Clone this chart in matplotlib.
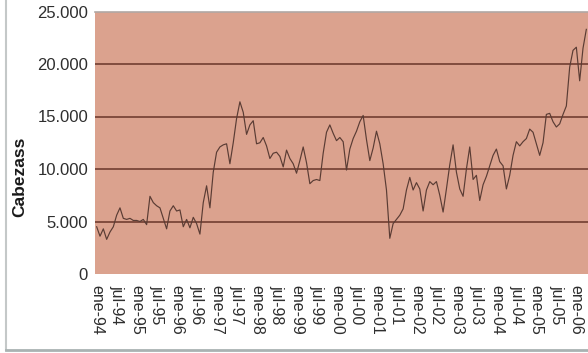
"""Monthly 'Cabezass' series, ene-94 to abr-06, on a salmon plot area."""

import matplotlib
matplotlib.use("Agg")
import matplotlib.pyplot as plt
from matplotlib.lines import Line2D

# monthly values, ene-94 .. abr-06 (148 months)
cabezas = [
    4500, 3600, 4300, 3300, 4000, 4500, 5600, 6300, 5300, 5200, 5300, 5100,
    5100, 5000, 5200, 4700, 7400, 6800, 6500, 6300, 5300, 4300, 6000, 6500,
    6000, 6100, 4500, 5200, 4400, 5400, 4800, 3800, 6800, 8400, 6300, 9700,
    11600, 12100, 12300, 12400, 10500, 12500, 14800, 16400, 15400, 13300, 14200, 14600,
    12400, 12500, 13000, 12200, 11000, 11500, 11600, 11200, 10200, 11800, 11000, 10500,
    9600, 10800, 12100, 10600, 8600, 8900, 9000, 8900, 11500, 13500, 14200, 13400,
    12700, 13000, 12600, 9900, 11900, 12900, 13600, 14500, 15100, 12800, 10800, 12000,
    13600, 12400, 10500, 8000, 3400, 4800, 5200, 5600, 6200, 8000, 9200, 8000,
    8700, 8100, 6000, 8000, 8800, 8500, 8800, 7500, 5900, 8100, 10400, 12300,
    9700, 8100, 7400, 10000, 12100, 9000, 9400, 7000, 8500, 9300, 10300, 11300,
    11900, 10700, 10300, 8100, 9400, 11300, 12600, 12200, 12600, 12900, 13800, 13500,
    12400, 11300, 12500, 15200, 15300, 14500, 14000, 14300, 15200, 16000, 19700, 21300,
    21600, 18400, 21500, 23300,
]

tick_labels = [
    "ene-94", "jul-94", "ene-95", "jul-95", "ene-96", "jul-96", "ene-97",
    "jul-97", "ene-98", "jul-98", "ene-99", "jul-99", "ene-00", "jul-00",
    "ene-01", "jul-01", "ene-02", "jul-02", "ene-03", "jul-03", "ene-04",
    "jul-04", "ene-05", "jul-05", "ene-06",
]
y_ticks = [0, 5000, 10000, 15000, 20000, 25000]
y_tick_labels = ["0", "5.000", "10.000", "15.000", "20.000", "25.000"]

plt.rcParams['font.family'] = ['Liberation Sans', 'DejaVu Sans']

fig = plt.figure(figsize=(5.88, 3.53), dpi=100)
fig.patch.set_facecolor('white')
ax = fig.add_axes([95 / 588, 79 / 353, 493 / 588, 262.5 / 353])
ax.set_facecolor('#dba28e')

months = range(len(cabezas))
ax.plot(months, cabezas, color='#5a3c34', linewidth=0.85, zorder=3)

ax.set_xlim(-0.5, len(cabezas) - 0.5)
ax.set_ylim(0, 25000)

ax.set_yticks(y_ticks)
ax.set_yticklabels(y_tick_labels, fontsize=12, color='#2e2e2e')
ax.set_xticks(range(0, 6 * len(tick_labels), 6))
ax.set_xticklabels(tick_labels, rotation=-90, fontsize=11.5, color='#2e2e2e')
ax.tick_params(axis='both', length=0)
ax.tick_params(axis='y', pad=5)
ax.tick_params(axis='x', pad=8)

for v in y_ticks[1:-1]:
    ax.axhline(v, color='#7a4638', linewidth=1.3, zorder=2)

for side in ['left', 'right', 'bottom']:
    ax.spines[side].set_visible(False)
ax.spines['top'].set_color('#b0a8a4')
ax.spines['top'].set_linewidth(1.2)

fig.text(20 / 588, 1 - 177 / 353, "Cabezass", rotation=90, fontsize=12.5,
         fontweight='bold', ha='center', va='center', color='#1a1a1a')

# faint chart frame at left and bottom
fig.add_artist(Line2D([6 / 588, 6 / 588], [3 / 353, 1], color='#c4c8c8', linewidth=1.5))
fig.add_artist(Line2D([6 / 588, 1], [3 / 353, 3 / 353], color='#a9b2b2', linewidth=2))

fig.savefig("out.png", dpi=100)
